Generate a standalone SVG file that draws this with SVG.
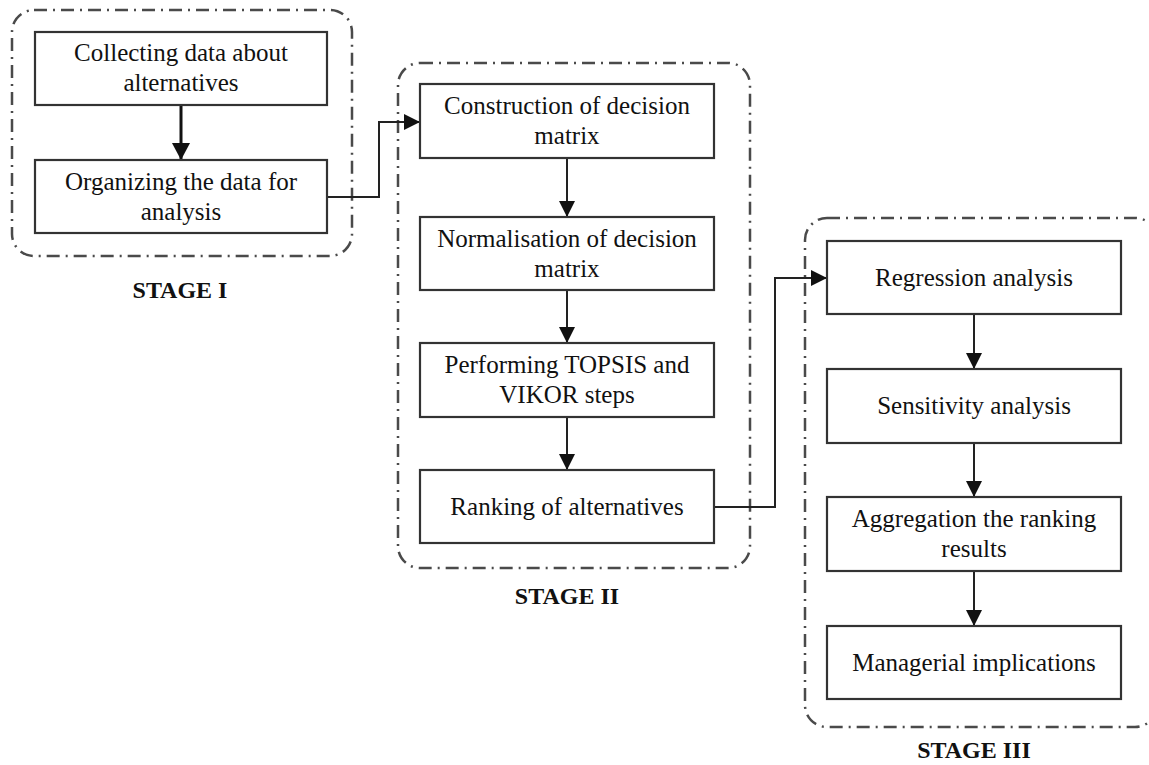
<svg xmlns="http://www.w3.org/2000/svg" width="1149" height="765" viewBox="0 0 1149 765">
<defs>
<style>
.stage{fill:none;stroke:#4a4a4a;stroke-width:2.5;stroke-dasharray:13 6 2 6}
.box{fill:#fff;stroke:#333;stroke-width:2.2}
.t{font-family:"Liberation Serif","Times New Roman",serif;font-size:25px;fill:#111;text-anchor:middle}
.lbl{font-family:"Liberation Serif","Times New Roman",serif;font-size:24px;font-weight:bold;fill:#111;text-anchor:middle}
.c{fill:none;stroke:#222;stroke-width:2}
.c1{fill:none;stroke:#111;stroke-width:3}
</style>
<marker id="ah" markerUnits="userSpaceOnUse" markerWidth="17" markerHeight="16" refX="16" refY="8" orient="auto">
<path d="M0,0 L16,8 L0,16 z" fill="#111"/>
</marker>
<marker id="ah1" markerUnits="userSpaceOnUse" markerWidth="18" markerHeight="18" refX="17" refY="9" orient="auto">
<path d="M0,0 L17,9 L0,18 z" fill="#111"/>
</marker>
</defs>
<rect width="1149" height="765" fill="#fff"/>

<g id="stage1">
<rect class="stage" x="12" y="10" width="340" height="246" rx="22"/>
<text class="lbl" x="180" y="298">STAGE I</text>
</g>
<g id="stage2">
<rect class="stage" x="398" y="63" width="352" height="505" rx="22"/>
<text class="lbl" x="567" y="604">STAGE II</text>
</g>
<g id="stage3">
<rect class="stage" x="805" y="218" width="352" height="509" rx="22"/>
<text class="lbl" x="974" y="758">STAGE III</text>
</g>

<g id="connectors">
<line class="c1" x1="181" y1="105" x2="181" y2="160" marker-end="url(#ah1)"/>
<polyline class="c" points="327,197 379,197 379,122 420,122" marker-end="url(#ah)"/>
<line class="c" x1="567" y1="158" x2="567" y2="217" marker-end="url(#ah)"/>
<line class="c" x1="567" y1="290" x2="567" y2="343" marker-end="url(#ah)"/>
<line class="c" x1="567" y1="417" x2="567" y2="470" marker-end="url(#ah)"/>
<polyline class="c" points="714,507 775,507 775,278 827,278" marker-end="url(#ah)"/>
<line class="c" x1="974" y1="314" x2="974" y2="369" marker-end="url(#ah)"/>
<line class="c" x1="974" y1="443" x2="974" y2="497" marker-end="url(#ah)"/>
<line class="c" x1="974" y1="571" x2="974" y2="626" marker-end="url(#ah)"/>
</g>

<g id="n1">
<rect class="box" x="35" y="32" width="292" height="73"/>
<text class="t" x="181" y="61">Collecting data about</text>
<text class="t" x="181" y="91">alternatives</text>
</g>
<g id="n2">
<rect class="box" x="35" y="160" width="292" height="73"/>
<text class="t" x="181" y="190">Organizing the data for</text>
<text class="t" x="181" y="220">analysis</text>
</g>
<g id="n3">
<rect class="box" x="420" y="84" width="294" height="74"/>
<text class="t" x="567" y="114">Construction of decision</text>
<text class="t" x="567" y="144">matrix</text>
</g>
<g id="n4">
<rect class="box" x="420" y="217" width="294" height="73"/>
<text class="t" x="567" y="247">Normalisation of decision</text>
<text class="t" x="567" y="277">matrix</text>
</g>
<g id="n5">
<rect class="box" x="420" y="343" width="294" height="74"/>
<text class="t" x="567" y="373">Performing TOPSIS and</text>
<text class="t" x="567" y="403">VIKOR steps</text>
</g>
<g id="n6">
<rect class="box" x="420" y="470" width="294" height="73"/>
<text class="t" x="567" y="515">Ranking of alternatives</text>
</g>
<g id="n7">
<rect class="box" x="827" y="241" width="294" height="73"/>
<text class="t" x="974" y="286">Regression analysis</text>
</g>
<g id="n8">
<rect class="box" x="827" y="369" width="294" height="74"/>
<text class="t" x="974" y="414">Sensitivity analysis</text>
</g>
<g id="n9">
<rect class="box" x="827" y="497" width="294" height="74"/>
<text class="t" x="974" y="527">Aggregation the ranking</text>
<text class="t" x="974" y="557">results</text>
</g>
<g id="n10">
<rect class="box" x="827" y="626" width="294" height="73"/>
<text class="t" x="974" y="671">Managerial implications</text>
</g>
</svg>
